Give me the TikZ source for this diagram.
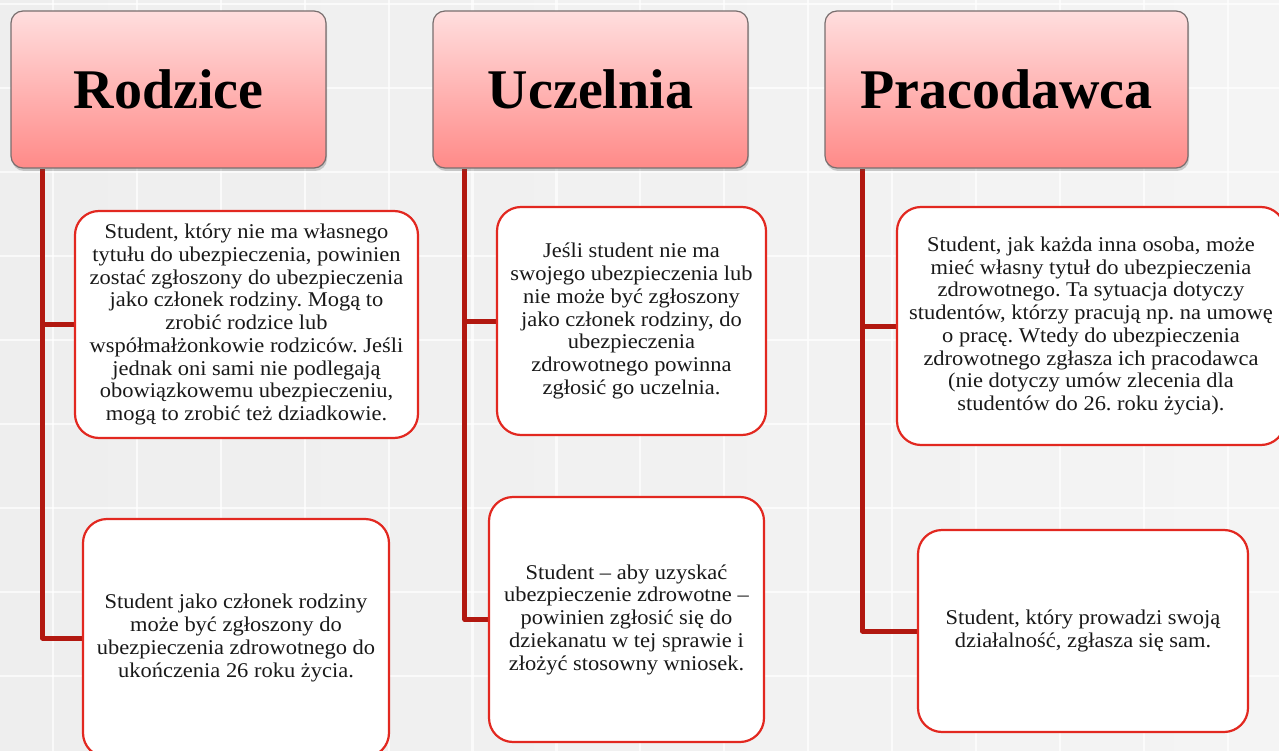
\documentclass[tikz,border=0pt]{standalone}
\usepackage{fontspec}
\setmainfont{Liberation Serif}
\newfontfamily\bodyfont[FakeStretch=1.07]{Liberation Serif}
\usetikzlibrary{shadows}
\frenchspacing
\pgfdeclarelayer{bglayer}
\pgfdeclarelayer{lines}
\pgfsetlayers{bglayer,lines,main}
\definecolor{linered}{RGB}{178,24,16}
\definecolor{boxred}{RGB}{226,40,32}
\definecolor{headtop}{RGB}{255,222,222}
\definecolor{headbot}{RGB}{255,138,136}
\definecolor{headline}{RGB}{120,110,110}
\definecolor{bgleft}{RGB}{238,238,238}
\definecolor{bgmid}{RGB}{227,227,227}
\definecolor{bgright}{RGB}{244,244,244}
\tikzset{
  header/.style={draw=headline, line width=1.2pt, rounded corners=12pt,
    top color=headtop, bottom color=headbot, minimum height=157pt,
    inner sep=0pt, font=\fontsize{56}{60}\selectfont\bfseries,
    drop shadow={shadow xshift=1pt, shadow yshift=-3pt, opacity=0.25, fill=black!70}},
  infobox/.style={draw=boxred, line width=2.2pt, rounded corners=24pt,
    fill=white, align=center, inner sep=0pt, text=black!90,
    font=\bodyfont\fontsize{21}{22.75}\selectfont},
  conn/.style={draw=linered, line width=5pt, line join=round},
  gridline/.style={draw=white, line width=2.2pt, opacity=0.7}
}
\begin{document}
\begin{tikzpicture}[x=1pt,y=-1pt]
\useasboundingbox (0,0) rectangle (1279,751);
\begin{pgfonlayer}{bglayer}
\shade[left color=bgleft, middle color=bgmid, right color=bgright] (0,0) rectangle (1279,751);
\foreach \i in {0,...,14} \draw[gridline] (53+83.9*\i,0) -- (53+83.9*\i,751);
\foreach \j in {0,...,8} \draw[gridline] (0,4+84*\j) -- (1279,4+84*\j);
\end{pgfonlayer}

% headers
\node[header, minimum width=315pt] (hR) at (168.5,89.5) {Rodzice};
\node[header, minimum width=315pt] (hU) at (590.5,89.5) {Uczelnia};
\node[header, minimum width=363pt] (hP) at (1006.5,89.5) {Pracodawca};

% info boxes
\node[infobox, minimum width=343pt, minimum height=227pt] (r1) at (246.5,324.5) {Student, który nie ma własnego\\tytułu do ubezpieczenia, powinien\\zostać zgłoszony do ubezpieczenia\\jako członek rodziny. Mogą to\\zrobić rodzice lub\\współmałżonkowie rodziców. Jeśli\\jednak oni sami nie podlegają\\obowiązkowemu ubezpieczeniu,\\mogą to zrobić też dziadkowie.};
\node[infobox, minimum width=306pt, minimum height=238pt] (r2) at (236,638) {Student jako członek rodziny\\może być zgłoszony do\\ubezpieczenia zdrowotnego do\\ukończenia 26 roku życia.};
\node[infobox, minimum width=269pt, minimum height=228pt] (u1) at (631.5,321) {Jeśli student nie ma\\swojego ubezpieczenia lub\\nie może być zgłoszony\\jako członek rodziny, do\\ubezpieczenia\\zdrowotnego powinna\\zgłosić go uczelnia.};
\node[infobox, minimum width=275pt, minimum height=245pt] (u2) at (626.5,619.5) {Student – aby uzyskać\\ubezpieczenie zdrowotne –\\powinien zgłosić się do\\dziekanatu w tej sprawie i\\złożyć stosowny wniosek.};
\node[infobox, minimum width=388pt, minimum height=238pt] (p1) at (1091,326) {Student, jak każda inna osoba, może\\mieć własny tytuł do ubezpieczenia\\zdrowotnego. Ta sytuacja dotyczy\\studentów, którzy pracują np. na umowę\\o pracę. Wtedy do ubezpieczenia\\zdrowotnego zgłasza ich pracodawca\\(nie dotyczy umów zlecenia dla\\studentów do 26. roku życia).};
\node[infobox, minimum width=330pt, minimum height=202pt] (p2) at (1083,631) {Student, który prowadzi swoją\\działalność, zgłasza się sam.};

% connectors
\coordinate (rtop) at ([xshift=32pt]hR.south west);
\coordinate (utop) at ([xshift=32.5pt]hU.south west);
\coordinate (ptop) at ([xshift=38pt]hP.south west);
\begin{pgfonlayer}{lines}
\draw[conn] (rtop) |- (r2.west);
\draw[conn] (r1.west) -- (rtop |- r1.west);
\draw[conn] (utop) |- (u2.west);
\draw[conn] (u1.west) -- (utop |- u1.west);
\draw[conn] (ptop) |- (p2.west);
\draw[conn] (p1.west) -- (ptop |- p1.west);
\end{pgfonlayer}
\end{tikzpicture}
\end{document}
